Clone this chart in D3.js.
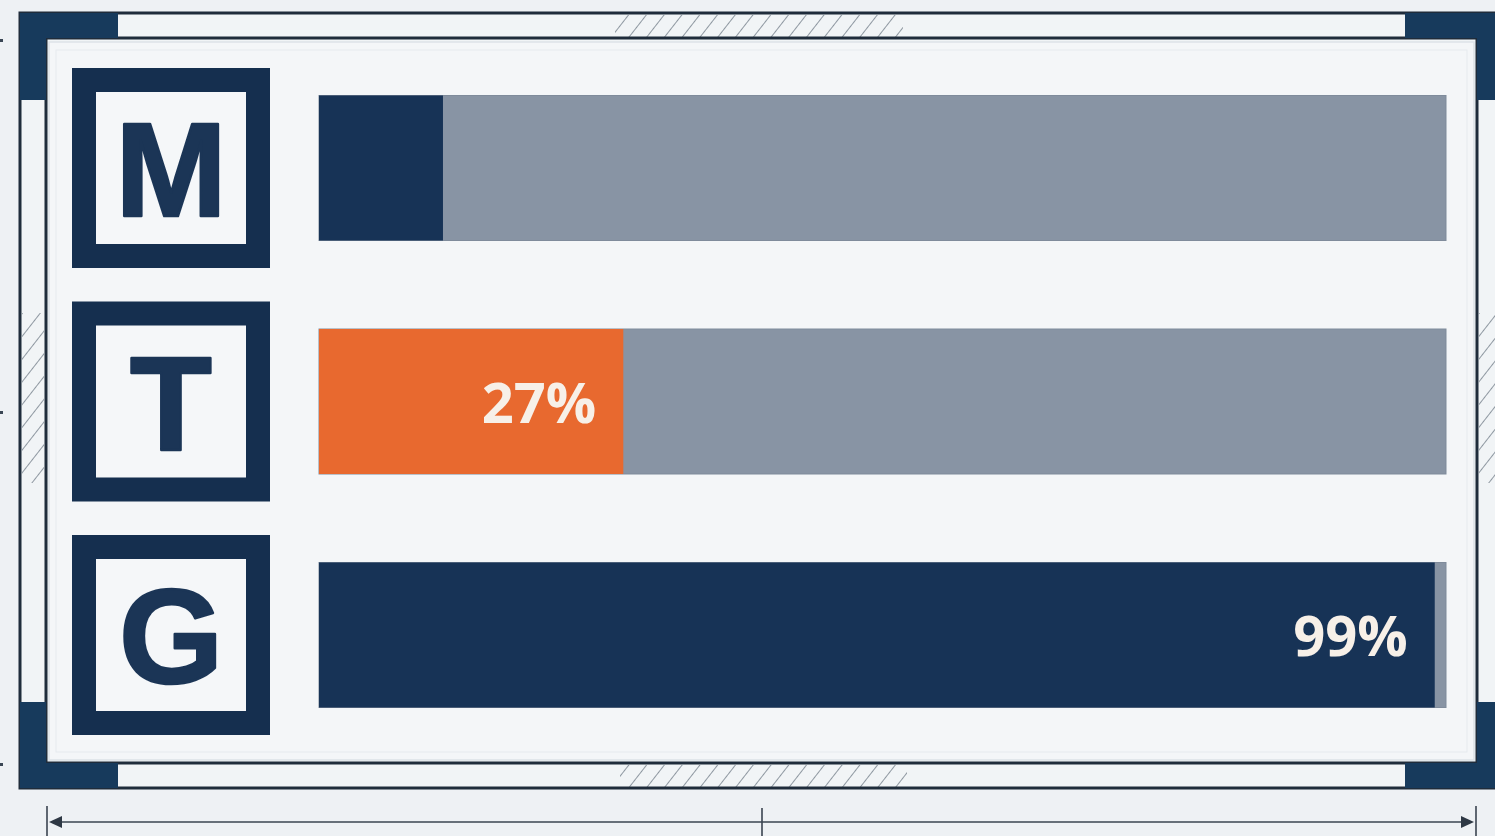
<!DOCTYPE html>
<html>
<head>
<meta charset="utf-8">
<script src="https://cdn.jsdelivr.net/npm/d3@7"></script>
<style>
  html, body { margin: 0; padding: 0; background: #eef1f4; }
  svg { display: block; }
</style>
</head>
<body>
<svg id="chart" width="1495" height="836"></svg>
<script>
// ---- data ----
const categories = ["M", "T", "G"];
const values = [11, 27, 99];
const valueLabels = ["", "27%", "99%"];
const barColors = ["#173356", "#e8692f", "#173356"];
const domainMax = 100;

// ---- setup ----
const svg = d3.select("#chart");
const W = 1495, H = 836;
const navy = "#173a5c";
const lineCol = "#1f2c3b";

svg.append("rect").attr("width", W).attr("height", H).attr("fill", "#eef1f4");

const defs = svg.append("defs");
const pat = defs.append("pattern")
  .attr("id", "hatch").attr("patternUnits", "userSpaceOnUse")
  .attr("width", 14).attr("height", 14)
  .attr("patternTransform", "rotate(38)");
pat.append("line").attr("x1", 0).attr("y1", 0).attr("x2", 0).attr("y2", 14)
  .attr("stroke", "#838d98").attr("stroke-width", 1.8);

// ---- decorative frame ----
const frame = svg.append("g");
frame.append("rect").attr("x", 20).attr("y", 13).attr("width", 1483).attr("height", 775)
  .attr("fill", "#f1f4f6");
[[615, 15, 288, 22], [620, 765, 287, 22], [22, 313, 22, 170], [1479, 313, 22, 170]]
  .forEach(r => frame.append("rect").attr("x", r[0]).attr("y", r[1]).attr("width", r[2]).attr("height", r[3])
    .attr("fill", "url(#hatch)"));
frame.append("rect").attr("x", 20).attr("y", 13).attr("width", 1483).attr("height", 775)
  .attr("fill", "none").attr("stroke", lineCol).attr("stroke-width", 3);
frame.append("rect").attr("x", 46).attr("y", 38).attr("width", 1431).attr("height", 725)
  .attr("fill", "none").attr("stroke", lineCol).attr("stroke-width", 3);
const corners = [
  "M20,13 H118 V38 H46 V100 H20 Z",
  "M1503,13 H1405 V38 H1477 V100 H1503 Z",
  "M20,788 H118 V763 H46 V702 H20 Z",
  "M1503,788 H1405 V763 H1477 V702 H1503 Z"
];
corners.forEach(d => frame.append("path").attr("d", d).attr("fill", navy));
frame.append("rect").attr("x", 49).attr("y", 42).attr("width", 1425).attr("height", 718)
  .attr("fill", "#f4f6f8").attr("stroke", "#dde2e7").attr("stroke-width", 1.5);
frame.append("rect").attr("x", 56).attr("y", 50).attr("width", 1411).attr("height", 702)
  .attr("fill", "none").attr("stroke", "#e6eaee").attr("stroke-width", 1);

[40, 412, 764].forEach(y => svg.append("rect").attr("x", 0).attr("y", y - 1).attr("width", 3).attr("height", 3).attr("fill", "#3a4654"));

// ---- scales ----
const y = d3.scaleBand().domain(categories).range([68, 735]).paddingInner(0.1435).paddingOuter(0);
const x = d3.scaleLinear().domain([0, domainMax]).range([319, 1446]);
const barH = 145;

// ---- letter boxes ----
const boxes = svg.append("g");
categories.forEach((c, i) => {
  const y0 = y(c), bw = y.bandwidth();
  boxes.append("rect").attr("x", 72).attr("y", y0).attr("width", 198).attr("height", bw).attr("fill", "#152f4f");
  boxes.append("rect").attr("x", 96).attr("y", y0 + 24).attr("width", 150).attr("height", bw - 48).attr("fill", "#f5f7f9");
  boxes.append("text").attr("x", 171).attr("y", y0 + bw / 2 + 48)
    .attr("text-anchor", "middle")
    .attr("font-family", "'Liberation Sans', Arial, sans-serif")
    .attr("font-weight", "bold").attr("font-size", 134)
    .attr("stroke", "#1b3556").attr("stroke-width", 2.5).attr("stroke-linejoin", "round")
    .attr("fill", "#1b3556").text(c);
});

// ---- bars ----
const bars = svg.append("g");
categories.forEach((c, i) => {
  const cy = y(c) + y.bandwidth() / 2;
  bars.append("rect").attr("x", x(0)).attr("y", cy - barH / 2)
    .attr("width", x(domainMax) - x(0)).attr("height", barH).attr("fill", "#8894a4")
    .attr("stroke", "#7f8b9b").attr("stroke-width", 1);
  bars.append("rect").attr("x", x(0)).attr("y", cy - barH / 2)
    .attr("width", x(values[i]) - x(0)).attr("height", barH).attr("fill", barColors[i]);
  if (valueLabels[i]) {
    bars.append("text").attr("x", x(values[i]) - 27).attr("y", cy + 21)
      .attr("text-anchor", "end")
      .attr("font-family", "'Open Sans', 'Liberation Sans', sans-serif")
      .attr("font-weight", 700).attr("font-size", 56)
      .attr("fill", "#f7f0e8").text(valueLabels[i]);
  }
});

// ---- bottom dimension arrow ----
const dim = svg.append("g").attr("stroke", "#3a4450").attr("stroke-width", 1.6);
dim.append("line").attr("x1", 52).attr("x2", 1471).attr("y1", 822).attr("y2", 822);
dim.append("line").attr("x1", 47).attr("x2", 47).attr("y1", 806).attr("y2", 836);
dim.append("line").attr("x1", 1476).attr("x2", 1476).attr("y1", 806).attr("y2", 836);
dim.append("line").attr("x1", 762).attr("x2", 762).attr("y1", 808).attr("y2", 836);
svg.append("path").attr("d", "M49,822 L62,816 L62,828 Z").attr("fill", "#2e3844");
svg.append("path").attr("d", "M1474,822 L1461,816 L1461,828 Z").attr("fill", "#2e3844");
</script>
</body>
</html>
